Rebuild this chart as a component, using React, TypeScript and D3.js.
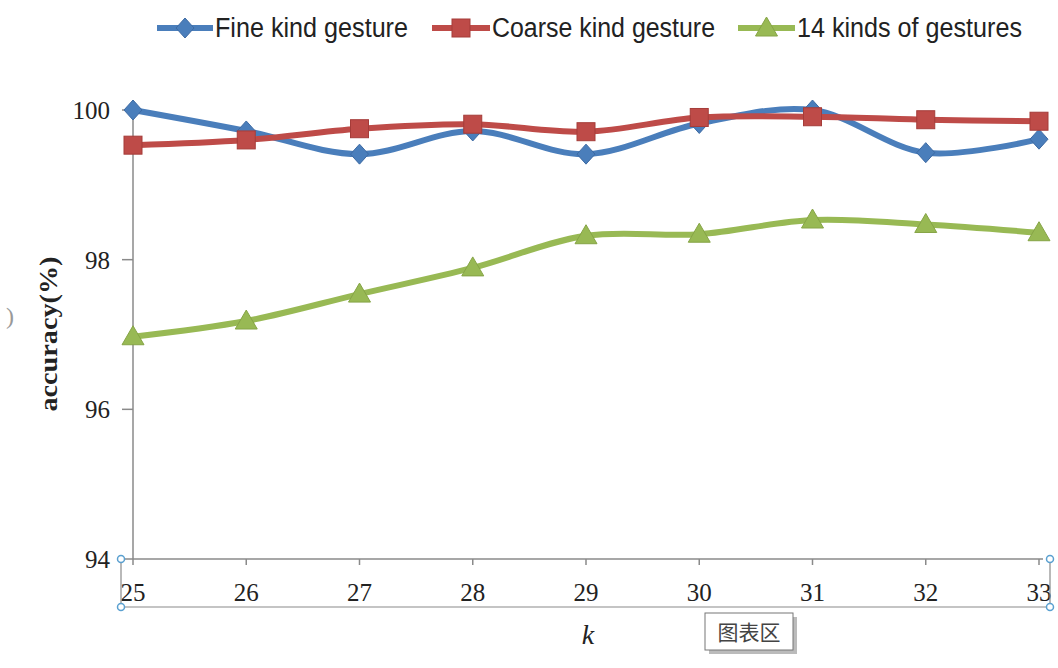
import React from "react";
import * as d3 from "d3";

const categories = [25, 26, 27, 28, 29, 30, 31, 32, 33];
const fineKind = [100.0, 99.72, 99.41, 99.72, 99.41, 99.82, 100.0, 99.43, 99.61];
const coarseKind = [99.53, 99.6, 99.75, 99.81, 99.71, 99.9, 99.91, 99.87, 99.85];
const kinds14 = [96.97, 97.18, 97.54, 97.89, 98.32, 98.34, 98.53, 98.47, 98.36];
const yTicks = [94, 96, 98, 100];
const seriesNames = ["Fine kind gesture", "Coarse kind gesture", "14 kinds of gestures"];
const seriesColors = ["#4a7ebb", "#be4b48", "#98b954"];
const seriesValues = [fineKind, coarseKind, kinds14];

const W = 1058;
const H = 668;

function Marker({ kind, x, y, color }: { kind: number; x: number; y: number; color: string }) {
  if (kind === 0) {
    const r = 10;
    return <path d={`M${x},${y - r}L${x + r * 0.9},${y}L${x},${y + r}L${x - r * 0.9},${y}Z`} fill={color} stroke="#3d6aa3" strokeWidth={1} />;
  }
  if (kind === 1) {
    const s = 9;
    return <rect x={x - s} y={y - s} width={2 * s} height={2 * s} fill={color} stroke="#a53c39" strokeWidth={1} />;
  }
  const r = 11;
  return <path d={`M${x},${y - r}L${x + r},${y + 8}L${x - r},${y + 8}Z`} fill={color} stroke="#86a446" strokeWidth={1} />;
}

export default function App() {
  const x = d3.scaleLinear().domain([25, 33]).range([133, 1039]);
  const y = d3.scaleLinear().domain([94, 100]).range([559, 110]);
  const line = d3
    .line<number>()
    .x((_, i) => x(categories[i]))
    .y((d) => y(d))
    .curve(d3.curveCatmullRom.alpha(0.5));

  const axisColor = "#8a8a8a";
  const serif = "'Liberation Serif', 'Times New Roman', serif";
  const sans = "'Liberation Sans', Arial, sans-serif";

  const legendItems = [
    { x0: 157, x1: 213, tx: 215, w: 193 },
    { x0: 432, x1: 490, tx: 492, w: 223 },
    { x0: 738, x1: 795, tx: 797, w: 225 },
  ];
  const legendY = 28;

  return (
    <div style={{ position: "fixed", left: 0, top: 0 }}>
      <svg width={W} height={H} style={{ display: "block", background: "#fff" }}>
        {/* legend */}
        {legendItems.map((it, i) => (
          <g key={i}>
            <line x1={it.x0} x2={it.x1} y1={legendY} y2={legendY} stroke={seriesColors[i]} strokeWidth={6} />
            <Marker kind={i} x={(it.x0 + it.x1) / 2} y={legendY} color={seriesColors[i]} />
            <text
              x={it.tx}
              y={legendY + 9}
              fontFamily={sans}
              fontSize={27}
              fill="#222"
              textLength={it.w}
              lengthAdjust="spacingAndGlyphs"
            >
              {seriesNames[i]}
            </text>
          </g>
        ))}

        {/* y axis */}
        <line x1={133} x2={133} y1={y(100) - 2} y2={y(94)} stroke={axisColor} strokeWidth={1.5} />
        {yTicks.map((t) => (
          <g key={t}>
            <line x1={122} x2={133} y1={y(t)} y2={y(t)} stroke={axisColor} strokeWidth={1.5} />
            <text x={110} y={y(t) + 9} textAnchor="end" fontFamily={serif} fontSize={25} fill="#222">
              {t}
            </text>
          </g>
        ))}
        <text
          transform={`translate(57,${334}) rotate(-90)`}
          textAnchor="middle"
          fontFamily={serif}
          fontSize={26}
          fontWeight="bold"
          fill="#222"
          textLength={155}
          lengthAdjust="spacingAndGlyphs"
        >
          accuracy(%)
        </text>

        {/* x axis */}
        <line x1={133} x2={1043} y1={y(94)} y2={y(94)} stroke={axisColor} strokeWidth={1.5} />
        {categories.map((c) => (
          <g key={c}>
            <line x1={x(c)} x2={x(c)} y1={y(94)} y2={y(94) + 6} stroke={axisColor} strokeWidth={1.5} />
            <text x={x(c)} y={601} textAnchor="middle" fontFamily={serif} fontSize={25} fill="#222">
              {c}
            </text>
          </g>
        ))}
        <text x={588} y={644} textAnchor="middle" fontFamily={serif} fontStyle="italic" fontSize={28} fill="#222">
          k
        </text>

        {/* selection frame */}
        <line x1={121} x2={1050} y1={607} y2={607} stroke={axisColor} strokeWidth={1.2} />
        <line x1={121} x2={121} y1={559} y2={607} stroke={axisColor} strokeWidth={1.2} />
        <line x1={1050} x2={1050} y1={559} y2={607} stroke={axisColor} strokeWidth={1.2} />
        {[
          [121, 559],
          [121, 607],
          [1050, 559],
          [1050, 607],
        ].map(([hx, hy], i) => (
          <circle key={i} cx={hx} cy={hy} r={3.5} fill="#fff" stroke="#5aa0d0" strokeWidth={1.5} />
        ))}

        {/* series */}
        {seriesValues.map((vals, si) => (
          <path key={si} d={line(vals) || ""} fill="none" stroke={seriesColors[si]} strokeWidth={6} strokeLinejoin="round" />
        ))}
        {seriesValues.map((vals, si) =>
          vals.map((v, i) => <Marker key={`${si}-${i}`} kind={si} x={x(categories[i])} y={y(v)} color={seriesColors[si]} />)
        )}

        {/* tooltip box */}
        <rect x={709} y={617} width={88} height={37} fill="#bbb" />
        <rect x={705} y={613} width={88} height={37} fill="#fff" stroke="#777" strokeWidth={1} />
        <text x={749} y={640} textAnchor="middle" fontFamily="'Noto Sans CJK SC', sans-serif" fontSize={21} fill="#444">
          图表区
        </text>

        {/* stray glyph at left */}
        <text x={6} y={324} fontFamily={serif} fontSize={24} fill="#999">
          )
        </text>
      </svg>
    </div>
  );
}
